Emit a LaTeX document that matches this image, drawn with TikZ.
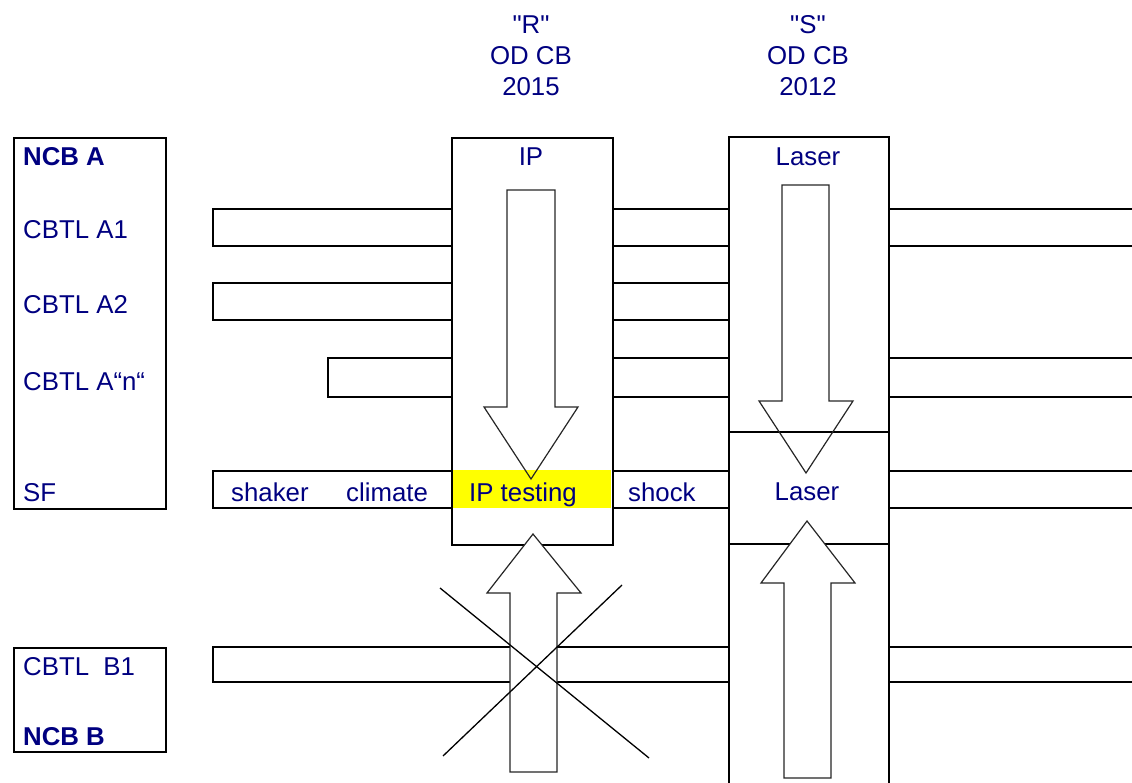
\documentclass[tikz,border=0pt]{standalone}
\usepackage{fontspec}
\setmainfont{Liberation Sans}[Ligatures=TeXOff]
\definecolor{txtblue}{RGB}{0,0,128}
\definecolor{hiyellow}{RGB}{255,255,0}
\tikzset{
  boxline/.style={draw=black, line width=1.6pt},
  thickline/.style={draw=black, line width=2.3pt},
  blockarrow/.style={draw=black!85, line width=1.2pt, line join=miter},
  crossline/.style={draw=black, line width=1.3pt},
  lbl/.style={text=txtblue, font=\fontsize{25.8}{31}\selectfont, inner sep=0pt},
  lblb/.style={lbl, font=\fontsize{25.8}{31}\selectfont\bfseries},
  rect/.style={boxline, inner sep=0pt, anchor=north west}
}
\begin{document}
\begin{tikzpicture}[x=1pt,y=-1pt]
\useasboundingbox (0,0) rectangle (1132,783);

% left group boxes
\node[rect, minimum width=152pt, minimum height=371pt] (ncbA) at (13,137) {};
\node[rect, minimum width=152pt, minimum height=104pt] (ncbB) at (13,647) {};

% yellow highlight
\fill[hiyellow] (452,470) rectangle (611,508);

% IP box
\node[rect, minimum width=161pt, minimum height=407pt] (ipbox) at (451,137) {};

% Laser column
\coordinate (lzTL) at (729,137);
\coordinate (lzTR) at (889,137);
\draw[boxline] (729,795) -- (lzTL) -- (lzTR) -- (889,795);
\draw[boxline] (729,432) -- (889,432);
\draw[boxline] (729,544) -- (889,544);

% rows left of IP
\draw[boxline] (451,209) -- (213,209) -- (213,246) -- (451,246);
\draw[boxline] (451,283) -- (213,283) -- (213,320) -- (451,320);
\draw[thickline] (451,358) -- (328,358) -- (328,397) -- (451,397);
\draw[boxline] (451,471) -- (213,471) -- (213,508) -- (451,508);

% rows between IP and Laser
\foreach \yy in {209,246,283,320,471,508} \draw[boxline] (612,\yy) -- (729,\yy);
\foreach \yy in {358,397} \draw[thickline] (612,\yy) -- (729,\yy);

% rows right of Laser
\foreach \yy in {209,246,471,508,647,682} \draw[boxline] (889,\yy) -- (1140,\yy);
\foreach \yy in {358,397} \draw[thickline] (889,\yy) -- (1140,\yy);

% B1 row
\draw[boxline] (729,647) -- (213,647) -- (213,682) -- (729,682);

% block arrows
\draw[blockarrow] (507,190) -- (555,190) -- (555,407) -- (578,407) -- (531,479) -- (484,407) -- (507,407) -- cycle;
\draw[blockarrow] (782,185) -- (829,185) -- (829,401) -- (853,401) -- (806,473) -- (759,401) -- (782,401) -- cycle;
\filldraw[blockarrow, fill=white] (510,772) -- (557,772) -- (557,593) -- (581,593) -- (533,534) -- (487,593) -- (510,593) -- cycle;
\filldraw[blockarrow, fill=white] (784,778) -- (831,778) -- (831,583) -- (855,583) -- (807,521) -- (761,583) -- (784,583) -- cycle;

% cross
\draw[crossline] (440,588) -- (649,758);
\draw[crossline] (622,585) -- (443,756);

% left labels
\node[lblb, anchor=base west] (tNA) at (23,166) {NCB A};
\node[lbl, anchor=base west] (tA1) at (23,239) {CBTL A1};
\node[lbl, anchor=base west] (tA2) at (23,314) {CBTL A2};
\node[lbl, anchor=base west] (tAn) at (23,390) {CBTL A“n“};
\node[lbl, anchor=base west] (tSF) at (23,501) {SF};
\node[lbl, anchor=base west] (tB1) at (23,675) {CBTL\ \ B1};
\node[lblb, anchor=base west] (tNB) at (23,745) {NCB B};

% SF row labels
\node[lbl, anchor=base west] (tshaker) at (231,501) {shaker};
\node[lbl, anchor=base west] (tclimate) at (346,501) {climate};
\node[lbl, anchor=base west] (tiptest) at (469,501) {IP testing};
\node[lbl, anchor=base west] (tshock) at (628,501) {shock};
\node[lbl, anchor=base] (tlaser2) at (807,500) {Laser};

% column headings
\node[lbl, anchor=base] (tIP) at (531,166) {IP};
\node[lbl, anchor=base] (tlaser1) at (808,166) {Laser};

% top labels
\node[lbl, anchor=base] (r1) at (531,34) {"R"};
\node[lbl, anchor=base] (r2) at (531,65) {OD CB};
\node[lbl, anchor=base] (r3) at (531,96) {2015};
\node[lbl, anchor=base] (s1) at (808,34) {"S"};
\node[lbl, anchor=base] (s2) at (808,65) {OD CB};
\node[lbl, anchor=base] (s3) at (808,96) {2012};
\end{tikzpicture}
\end{document}
